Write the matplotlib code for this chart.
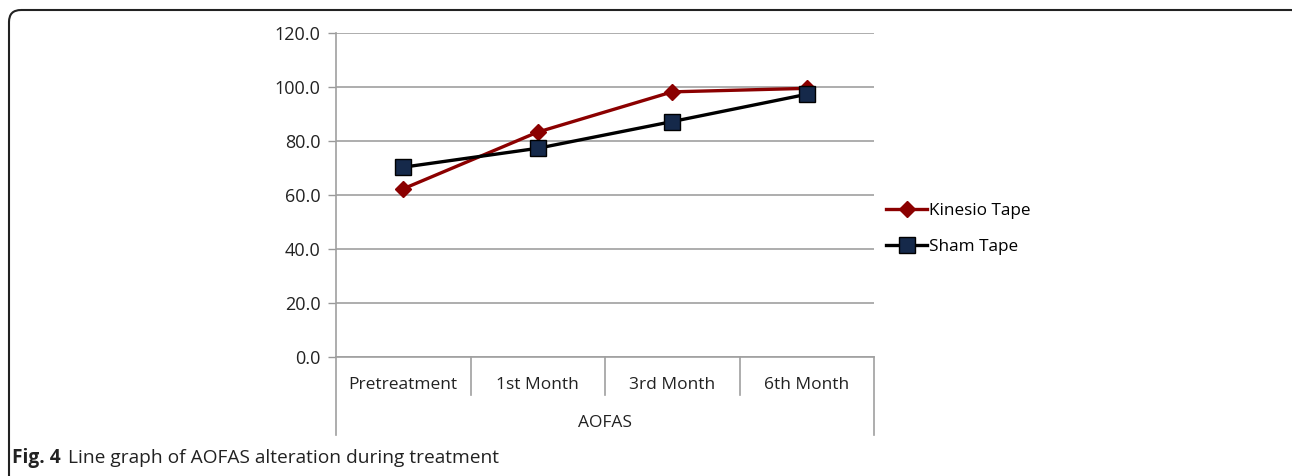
import matplotlib.pyplot as plt
from matplotlib.patches import FancyBboxPatch

categories = ['Pretreatment', '1st Month', '3rd Month', '6th Month']
kinesio = [62.3, 83.3, 98.2, 99.5]
sham = [70.3, 77.3, 87.2, 97.3]
yticks = [0, 20, 40, 60, 80, 100, 120]

plt.rcParams['font.family'] = ['Open Sans', 'DejaVu Sans']

fig = plt.figure(figsize=(12.92, 4.76), dpi=100)
W, H = 1292, 476

def fx(px):
    return px / W

def fy(py):
    return 1 - py / H

# background layer in pixel coordinates for the frame and caption
bg = fig.add_axes([0, 0, 1, 1])
bg.set_xlim(0, W)
bg.set_ylim(H, 0)
bg.axis('off')
frame = FancyBboxPatch((9, 10), 1294, 520, boxstyle='round,pad=0,rounding_size=12',
                       fill=False, ec='#222222', lw=1.5)
bg.add_patch(frame)
bg.text(12, 458, 'Fig. 4', fontsize=13.8, fontweight='bold', va='center', ha='left',
        color='#222222')
bg.text(68, 458, 'Line graph of AOFAS alteration during treatment', fontsize=13.8,
        va='center', ha='left', color='#222222')

ax = fig.add_axes([fx(336), fy(357), fx(874) - fx(336), fy(33) - fy(357)])
x = list(range(len(categories)))

ax.plot(x, kinesio, color='#8B0000', lw=2.4, marker='D', ms=8,
        mfc='#8B0000', mec='#8B0000', label='Kinesio Tape', zorder=3)
ax.plot(x, sham, color='black', lw=2.4, marker='s', ms=11,
        mfc='#15294A', mec='black', mew=1, label='Sham Tape', zorder=4)

ax.set_xlim(-0.5, len(categories) - 0.5)
ax.set_ylim(0, 120)
ax.set_yticks(yticks)
ax.set_yticklabels([f'{v:.1f}' for v in yticks], fontsize=13, color='#222222')
ax.tick_params(axis='y', length=6, color='#999999', width=1, pad=5)
ax.set_xticks([])
ax.grid(axis='y', color='#A0A0A0', lw=1.2)
ax.set_axisbelow(True)
for s in ['top', 'right']:
    ax.spines[s].set_visible(False)
ax.spines['left'].set_color('#A0A0A0')
ax.spines['left'].set_linewidth(1.2)
ax.spines['bottom'].set_color('#A0A0A0')
ax.spines['bottom'].set_linewidth(1.2)

# category labels and separators below the axis
tr = ax.get_xaxis_transform()
for i, c in enumerate(categories):
    ax.text(i, -28 / 324, c, transform=tr, ha='center', va='center',
            fontsize=12.5, color='#222222')
for b in range(1, len(categories)):
    ax.plot([b - 0.5, b - 0.5], [0, -38 / 324], transform=tr, color='#A0A0A0',
            lw=1.2, clip_on=False)
for b in [-0.5, len(categories) - 0.5]:
    ax.plot([b, b], [0, -78 / 324], transform=tr, color='#A0A0A0',
            lw=1.2, clip_on=False)
ax.text(1.5, -66 / 324, 'AOFAS', transform=tr, ha='center', va='center',
        fontsize=12.5, color='#222222')

ax.legend(loc='center left', bbox_to_anchor=(fx(871), fy(229)),
          bbox_transform=fig.transFigure, frameon=False, fontsize=12.3,
          handlelength=2.4, labelspacing=1.15, handletextpad=0.1)

fig.savefig('out.png', dpi=100)
